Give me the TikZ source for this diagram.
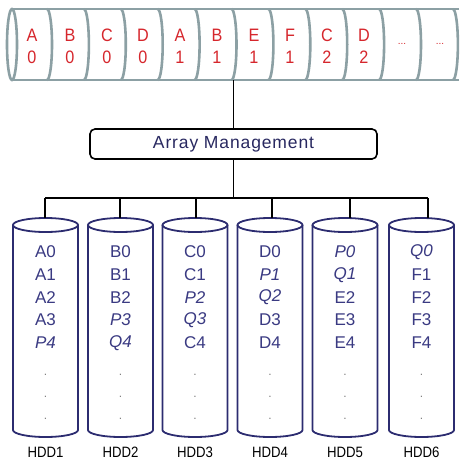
\documentclass[tikz,border=0pt]{standalone}
\usepackage{graphicx}
\usepackage{fontspec}
\setmainfont{Liberation Sans}
\definecolor{stripeline}{RGB}{140,160,164}
\definecolor{blockred}{RGB}{214,38,44}
\definecolor{disknavy}{RGB}{44,44,112}
\definecolor{disktext}{RGB}{58,58,130}
\definecolor{mgmttext}{RGB}{40,40,96}
% slightly condensed lettering
\newcommand{\narrowtext}[2][0.9]{\scalebox{#1}[1]{#2}}
\tikzset{
  stripeedge/.style={draw=stripeline, line width=2.6pt},
  blocklabel/.style={text=blockred, font=\fontsize{18}{18}\selectfont, inner sep=0pt},
  mgmtbox/.style={draw=black, line width=1.6pt, rounded corners=5pt, fill=white,
    minimum width=287pt, minimum height=30pt, inner sep=0pt, text=mgmttext,
    font=\fontsize{17.5}{18}\selectfont\addfontfeatures{LetterSpace=5}},
  bus/.style={draw=black, line width=1.8pt},
  diskedge/.style={draw=disknavy, line width=1.8pt},
  diskbody/.style={inner sep=0pt, minimum width=65pt, minimum height=212pt},
  diskentry/.style={text=disktext, font=\fontsize{17}{17}\selectfont, inner sep=0pt},
  diskdot/.style={text=gray, font=\fontsize{12}{12}\selectfont, inner sep=0pt},
  disklabel/.style={text=black, font=\fontsize{15}{15}\selectfont, inner sep=0pt},
}
\begin{document}
\begin{tikzpicture}[x=1pt, y=-1pt]
\useasboundingbox (0,0) rectangle (459,461);

% striped data stream across the top
\node[inner sep=0pt, minimum width=447pt, minimum height=71pt] (stream) at (235.5,44.5) {};
\fill[white] (12,9) rectangle (459,80);
\draw[stripeedge] (459,9) -- (12,9);
\draw[stripeedge] (459,80) -- (12,80);
\draw[stripeedge] (12,44.5) ellipse[x radius=5pt, y radius=35.5pt];
\foreach \k in {0,...,11}{
  \draw[stripeedge] ({47+36.9*\k},9) arc[start angle=90, end angle=-90, x radius=5pt, y radius=35.5pt];
}
\foreach \cx/\l/\d in {32/A/0, 70/B/0, 107/C/0, 143/D/0, 180/A/1, 217/B/1,
                       254/E/1, 290/F/1, 327/C/2, 364/D/2}{
  \node[blocklabel] at (\cx,35) {\narrowtext{\l}};
  \node[blocklabel] at (\cx,57) {\narrowtext{\d}};
}
\node[blocklabel, font=\fontsize{10}{10}\selectfont] at (402,44) {...};
\node[blocklabel, font=\fontsize{10}{10}\selectfont] at (440,44) {...};

% controller
\node[mgmtbox] (mgmt) at (233.5,144) {Array Management};
\draw[bus] (stream.south -| mgmt.north) -- (mgmt.north);

% distribution bus
\coordinate (hub) at (233.5,198);
\draw[bus] (mgmt.south) -- (hub);
\foreach \i/\tx in {1/45, 2/120, 3/196, 4/272, 5/350, 6/428}{
  \coordinate (t\i) at (\tx,198);
}
\draw[bus] (t1) -- (t6);

% disks
\foreach \i/\cx in {1/45.5, 2/120.5, 3/195, 4/270, 5/345, 6/421.5}{
  \fill[white] (\cx-32.5,225) rectangle (\cx+32.5,430);
  \draw[diskedge] (\cx-32.5,225) -- (\cx-32.5,430)
    arc[start angle=180, end angle=360, x radius=32.5pt, y radius=7pt]
    -- (\cx+32.5,225);
  \draw[diskedge] (\cx,225) ellipse[x radius=32.5pt, y radius=7pt];
  \node[diskbody] (h\i) at (\cx,324) {};
  \node[disklabel] (n\i) at (\cx,452) {\narrowtext[0.88]{HDD\i}};
  \foreach \y in {375,397,419}{
    \node[diskdot] at (\cx,\y) {.};
  }
}
\foreach \i/\w in {1/1.8pt, 2/1.8pt, 3/2.6pt, 4/1.8pt, 5/1.8pt, 6/1.8pt}{
  \draw[bus, line width=\w] (t\i) -- (t\i |- h\i.north);
}

% disk contents
\foreach \i/\a/\b/\c/\d/\e in {
  1/A0/A1/A2/A3/\textit{P4},
  2/B0/B1/B2/\textit{P3}/\textit{Q4},
  3/C0/C1/\textit{P2}/\textit{Q3}/C4,
  4/D0/\textit{P1}/\textit{Q2}/D3/D4,
  5/\textit{P0}/\textit{Q1}/E2/E3/E4,
  6/\textit{Q0}/F1/F2/F3/F4}{
  \node[diskentry] at (h\i.center |- 0,252) {\a};
  \node[diskentry] at (h\i.center |- 0,275) {\b};
  \node[diskentry] at (h\i.center |- 0,297.5) {\c};
  \node[diskentry] at (h\i.center |- 0,320) {\d};
  \node[diskentry] at (h\i.center |- 0,343) {\e};
}
\end{tikzpicture}
\end{document}
